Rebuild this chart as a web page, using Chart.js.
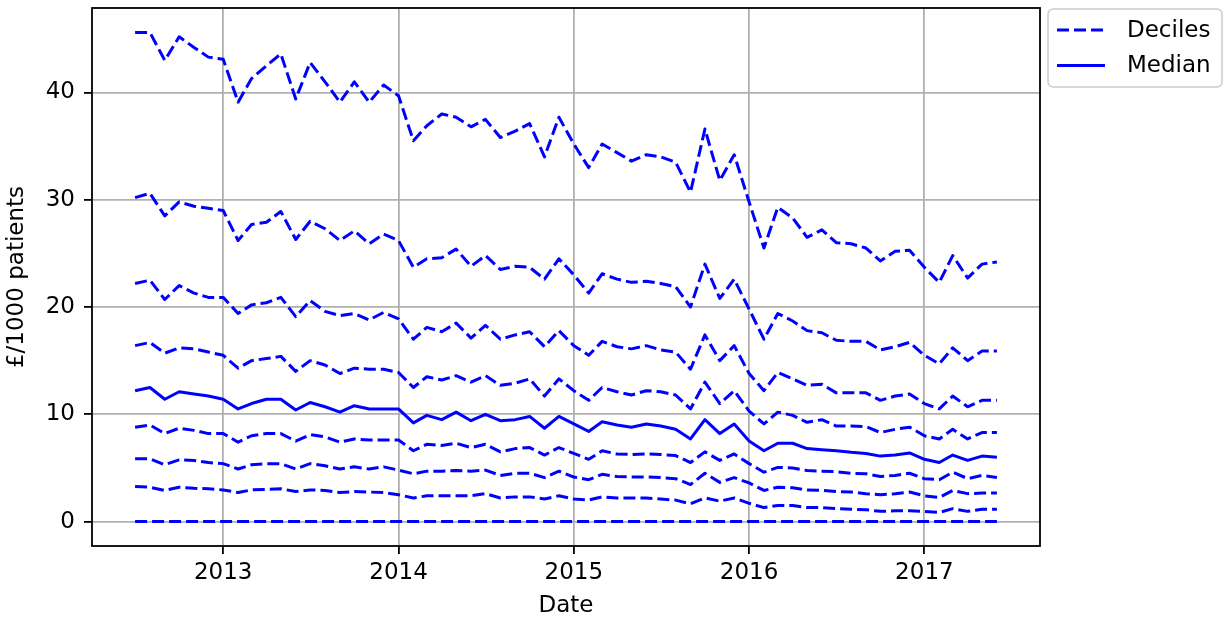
<!DOCTYPE html>
<html>
<head>
<meta charset="utf-8">
<script src="https://cdn.jsdelivr.net/npm/chart.js@4.4.0/dist/chart.umd.min.js"></script>
<style>
  html, body { margin: 0; padding: 0; background: #fff; }
  #wrap { width: 1225px; height: 623px; }
</style>
</head>
<body>
<div id="wrap"><canvas id="chart" width="1225" height="623"></canvas></div>
<script>
// monthly data, Jul 2012 - Jun 2017
const months = [
  "2012-07", "2012-08", "2012-09", "2012-10", "2012-11", "2012-12",
  "2013-01", "2013-02", "2013-03", "2013-04", "2013-05", "2013-06",
  "2013-07", "2013-08", "2013-09", "2013-10", "2013-11", "2013-12",
  "2014-01", "2014-02", "2014-03", "2014-04", "2014-05", "2014-06",
  "2014-07", "2014-08", "2014-09", "2014-10", "2014-11", "2014-12",
  "2015-01", "2015-02", "2015-03", "2015-04", "2015-05", "2015-06",
  "2015-07", "2015-08", "2015-09", "2015-10", "2015-11", "2015-12",
  "2016-01", "2016-02", "2016-03", "2016-04", "2016-05", "2016-06",
  "2016-07", "2016-08", "2016-09", "2016-10", "2016-11", "2016-12",
  "2017-01", "2017-02", "2017-03", "2017-04", "2017-05", "2017-06"
];

const p90 = [
  45.6, 45.6, 43.0, 45.2, 44.2, 43.3, 43.1, 39.1, 41.3, 42.5, 43.6, 39.4,
  42.8, 41.0, 39.1, 41.0, 39.1, 40.7, 39.7, 35.5, 36.9, 38.0, 37.7, 36.8,
  37.5, 35.8, 36.4, 37.1, 34.0, 37.7, 35.2, 33.0, 35.2, 34.4, 33.6, 34.2,
  34.0, 33.5, 30.7, 36.6, 31.8, 34.2, 29.8, 25.5, 29.3, 28.3, 26.5, 27.2,
  26.0, 25.9, 25.5, 24.3, 25.2, 25.3, 23.7, 22.3, 24.8, 22.7, 24.0, 24.2
];
const p80 = [
  30.2, 30.6, 28.5, 29.8, 29.4, 29.2, 29.0, 26.2, 27.7, 27.9, 28.9, 26.3,
  28.0, 27.3, 26.2, 27.1, 25.9, 26.8, 26.2, 23.7, 24.5, 24.6, 25.4, 23.8,
  24.8, 23.5, 23.8, 23.7, 22.6, 24.5, 23.0, 21.3, 23.1, 22.6, 22.3, 22.4,
  22.2, 21.9, 20.0, 24.0, 20.8, 22.6, 19.8, 17.0, 19.4, 18.7, 17.8, 17.6,
  16.9, 16.8, 16.8, 16.0, 16.3, 16.7, 15.5, 14.7, 16.2, 15.0, 15.9, 15.9
];
const p70 = [
  22.2, 22.5, 20.7, 22.0, 21.3, 20.9, 20.9, 19.4, 20.2, 20.4, 20.9, 19.1,
  20.6, 19.6, 19.2, 19.4, 18.8, 19.5, 18.9, 17.0, 18.1, 17.7, 18.5, 17.1,
  18.3, 17.0, 17.4, 17.7, 16.3, 17.8, 16.4, 15.5, 16.8, 16.3, 16.1, 16.4,
  16.0, 15.8, 14.2, 17.4, 15.0, 16.4, 13.8, 12.2, 13.9, 13.3, 12.7, 12.8,
  12.0, 12.0, 12.0, 11.3, 11.7, 11.9, 11.0, 10.5, 11.7, 10.7, 11.3, 11.3
];
const p60 = [
  16.4, 16.7, 15.7, 16.2, 16.1, 15.8, 15.5, 14.3, 15.0, 15.2, 15.4, 14.0,
  15.0, 14.6, 13.8, 14.3, 14.2, 14.2, 13.9, 12.5, 13.5, 13.2, 13.6, 13.0,
  13.6, 12.7, 12.9, 13.3, 11.7, 13.3, 12.2, 11.3, 12.5, 12.1, 11.8, 12.2,
  12.1, 11.8, 10.5, 13.0, 11.0, 12.2, 10.3, 9.1, 10.2, 9.9, 9.25, 9.5,
  8.9, 8.9, 8.85, 8.3, 8.6, 8.8, 8.0, 7.7, 8.6, 7.7, 8.3, 8.3
];
const median = [
  12.2, 12.5, 11.4, 12.1, 11.9, 11.7, 11.4, 10.5, 11.0, 11.4, 11.4, 10.4,
  11.1, 10.7, 10.2, 10.8, 10.5, 10.5, 10.5, 9.2, 9.9, 9.5, 10.2, 9.4,
  10.0, 9.4, 9.5, 9.8, 8.7, 9.8, 9.1, 8.4, 9.3, 9.0, 8.8, 9.1,
  8.9, 8.6, 7.7, 9.5, 8.2, 9.1, 7.5, 6.6, 7.3, 7.3, 6.8, 6.7,
  6.6, 6.45, 6.35, 6.1, 6.2, 6.4, 5.8, 5.5, 6.2, 5.7, 6.1, 6.0
];
const p40 = [
  8.8, 9.0, 8.2, 8.7, 8.5, 8.2, 8.2, 7.4, 8.0, 8.2, 8.2, 7.5,
  8.1, 7.9, 7.4, 7.7, 7.6, 7.6, 7.6, 6.6, 7.2, 7.1, 7.3, 6.9,
  7.2, 6.5, 6.8, 6.9, 6.2, 6.9, 6.35, 5.8, 6.6, 6.3, 6.25, 6.3,
  6.25, 6.15, 5.5, 6.5, 5.7, 6.3, 5.4, 4.6, 5.05, 5.0, 4.75, 4.7,
  4.65, 4.5, 4.45, 4.2, 4.3, 4.5, 4.0, 3.9, 4.6, 4.0, 4.3, 4.1
];
const p30 = [
  5.85, 5.85, 5.3, 5.75, 5.7, 5.5, 5.4, 4.9, 5.3, 5.4, 5.4, 4.9,
  5.4, 5.2, 4.9, 5.1, 4.9, 5.1, 4.8, 4.45, 4.7, 4.7, 4.75, 4.7,
  4.8, 4.3, 4.5, 4.5, 4.1, 4.7, 4.15, 3.9, 4.4, 4.2, 4.15, 4.15,
  4.1, 4.0, 3.45, 4.5, 3.65, 4.1, 3.6, 2.9, 3.2, 3.15, 2.95, 2.9,
  2.8, 2.75, 2.6, 2.5, 2.6, 2.75, 2.4, 2.25, 2.9, 2.6, 2.65, 2.65
];
const p20 = [
  3.27, 3.2, 2.9, 3.2, 3.1, 3.05, 2.95, 2.7, 2.95, 3.0, 3.05, 2.8,
  2.95, 2.9, 2.7, 2.8, 2.75, 2.7, 2.5, 2.2, 2.4, 2.4, 2.4, 2.4,
  2.6, 2.2, 2.3, 2.3, 2.1, 2.4, 2.1, 2.0, 2.3, 2.2, 2.2, 2.2,
  2.1, 2.0, 1.65, 2.2, 1.9, 2.2, 1.7, 1.3, 1.5, 1.5, 1.3, 1.3,
  1.2, 1.15, 1.1, 0.95, 1.0, 1.0, 0.95, 0.85, 1.2, 0.95, 1.15, 1.15
];
const p10 = [
  0, 0, 0, 0, 0, 0, 0, 0, 0, 0, 0, 0,
  0, 0, 0, 0, 0, 0, 0, 0, 0, 0, 0, 0,
  0, 0, 0, 0, 0, 0, 0, 0, 0, 0, 0, 0,
  0, 0, 0, 0, 0, 0, 0, 0, 0, 0, 0, 0,
  0, 0, 0, 0, 0, 0, 0, 0, 0, 0, 0, 0
];

const xTicks = [2013, 2014, 2015, 2016, 2017];
const yTicks = [0, 10, 20, 30, 40];
const legendLabels = ["Deciles", "Median"];

const FONT = 'DejaVu Sans';
const BLUE = '#0000ff';
const DASH = [12, 5];

// "2013-04" -> fractional year, like matplotlib date numbers on a year axis
function toYear(s) {
  const [y, m] = s.split('-').map(Number);
  const start = Date.UTC(y, 0, 1), next = Date.UTC(y + 1, 0, 1);
  return y + (Date.UTC(y, m - 1, 1) - start) / (next - start);
}
const xs = months.map(toYear);

const xPad = (xs[xs.length - 1] - xs[0]) * 0.05;
const yMax = Math.max(...p90);
const yPad = yMax * 0.05;

function series(vals, solid) {
  return {
    data: vals.map((v, i) => ({ x: xs[i], y: v })),
    borderColor: BLUE,
    borderWidth: 3,
    borderDash: solid ? [] : DASH,
    borderCapStyle: 'butt',
    borderJoinStyle: 'round',
    pointRadius: 0,
    tension: 0,
    fill: false
  };
}

const datasets = [
  series(p10), series(p20), series(p30), series(p40),
  series(median, true),
  series(p60), series(p70), series(p80), series(p90)
];

const framePlugin = {
  id: 'frame',
  afterDatasetsDraw(chart) {
    const { ctx, chartArea: a } = chart;
    ctx.save();
    ctx.strokeStyle = '#000';
    ctx.lineWidth = 1.8;
    ctx.strokeRect(a.left, a.top, a.right - a.left, a.bottom - a.top);
    ctx.restore();
  }
};

const legendPlugin = {
  id: 'boxLegend',
  afterDraw(chart) {
    const ctx = chart.ctx;
    const left = chart.chartArea.right + 8, top = 9;
    ctx.save();
    ctx.beginPath();
    ctx.roundRect(left, top, 174, 78, 5);
    ctx.fillStyle = 'rgba(255,255,255,0.8)';
    ctx.fill();
    ctx.strokeStyle = '#cccccc';
    ctx.lineWidth = 1.5;
    ctx.stroke();
    ctx.font = '23px "' + FONT + '"';
    ctx.textBaseline = 'middle';
    ctx.fillStyle = '#000';
    legendLabels.forEach((lab, k) => {
      const y = top + 21 + k * 35.5;
      ctx.beginPath();
      ctx.setLineDash(k === 0 ? DASH : []);
      ctx.strokeStyle = BLUE;
      ctx.lineWidth = 3;
      ctx.moveTo(left + 9, y);
      ctx.lineTo(left + 57, y);
      ctx.stroke();
      ctx.fillText(lab, left + 79, y + 1);
    });
    ctx.restore();
  }
};

Chart.defaults.font.family = FONT;
Chart.defaults.color = '#000';

new Chart(document.getElementById('chart'), {
  type: 'line',
  data: { datasets },
  options: {
    responsive: false,
    devicePixelRatio: 1,
    animation: false,
    layout: { padding: { top: 8, right: 185, left: 0, bottom: 0 } },
    plugins: { legend: { display: false }, tooltip: { enabled: false } },
    scales: {
      x: {
        type: 'linear',
        min: xs[0] - xPad,
        max: xs[xs.length - 1] + xPad,
        afterBuildTicks: s => { s.ticks = xTicks.map(v => ({ value: v })); },
        afterFit: s => { s.height = 77; s.paddingLeft = 0; s.paddingRight = 0; },
        ticks: { font: { size: 23 }, padding: 5, maxRotation: 0, callback: v => String(v) },
        grid: { color: '#b0b0b0', lineWidth: 1.8, tickLength: 8, tickColor: '#000', tickWidth: 1.8 },
        border: { display: false },
        title: { display: true, text: 'Date', font: { size: 23 }, padding: { top: 0, bottom: 3 } }
      },
      y: {
        min: -yPad,
        max: yMax + yPad,
        afterBuildTicks: s => { s.ticks = yTicks.map(v => ({ value: v })); },
        afterFit: s => { s.width = 92; s.paddingTop = 0; s.paddingBottom = 0; },
        ticks: { font: { size: 23 }, padding: 9, callback: v => String(v) },
        grid: { color: '#b0b0b0', lineWidth: 1.8, tickLength: 8, tickColor: '#000', tickWidth: 1.8 },
        border: { display: false },
        title: { display: true, text: '£/1000 patients', font: { size: 23 }, padding: { top: 3, bottom: 0 } }
      }
    }
  },
  plugins: [framePlugin, legendPlugin]
});
</script>
</body>
</html>
